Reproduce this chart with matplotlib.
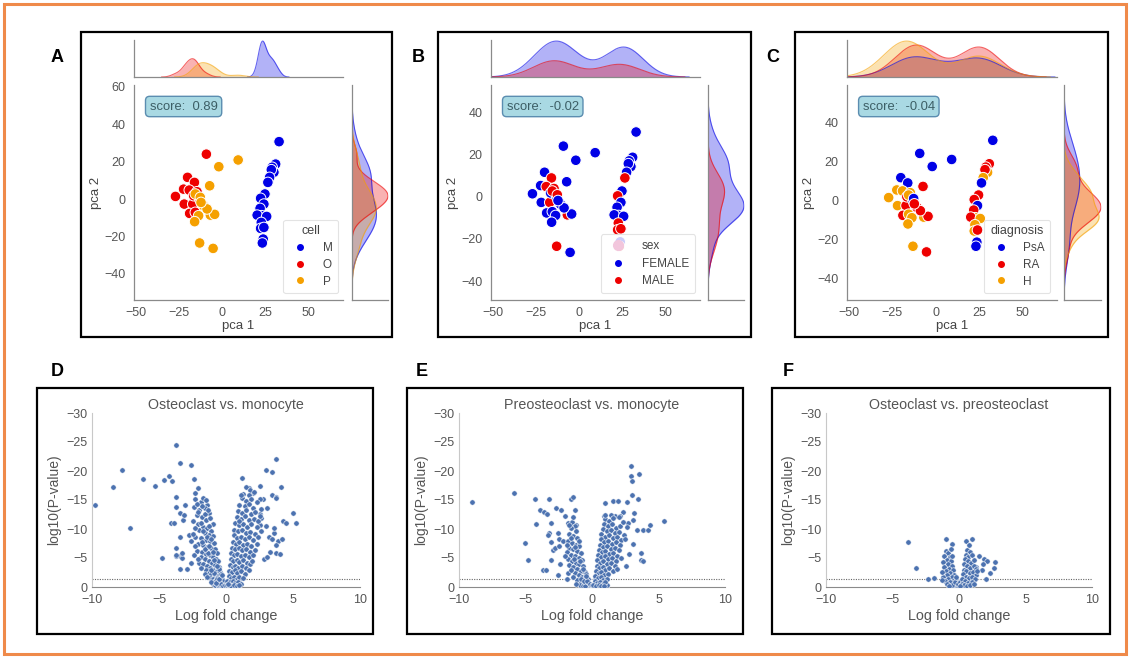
import matplotlib
matplotlib.use("Agg")
import matplotlib.pyplot as plt
from matplotlib.patches import Rectangle
from matplotlib.lines import Line2D
import numpy as np

plt.rcParams["font.family"] = ["Liberation Sans", "DejaVu Sans"]

W, H = 1130, 658

# ---- PCA samples (same points in A, B, C) ----
pca1 = np.array([33, 31, 29, 30, 28.5, 27.5, 26.5, 24.8, 22.3, 24.2, 22, 22.9, 20.3, 25.8,
                 22.7, 22.3, 24.2, 23.8, 23.3,
                 -9.1, -20, -16, -22.3, -27, -19, -21.9, -17, -18.8, -15.5, -16.5, -14.5, -13,
                 9.3, -1.9, -7.2, -15.5, -12.6, -10.7, -13.6, -6.8, -4.3, -8.7, -15.9, -13,
                 -5.2, -12.2])
pca2 = np.array([30.7, 18.7, 17, 14.3, 15.7, 11.6, 8.9, 2.7, 0.4, -2.7, -5, -8.9, -8.6, -9.3,
                 -12.5, -15.7, -15.2, -21.4, -23.5,
                 24, 11.6, 8.9, 5.3, 1.4, 4.8, -2.7, -2.7, -7.7, -7.1, 1.8, 3.9, 0,
                 20.9, 17.3, 7.1, 2.7, 0.9, -3.6, -8.9, -8.6, -8.2, -5.3, -12.1, -23.5,
                 -26.4, -1.8])
cell = (["M"] * 19) + (["O"] * 13) + (["P"] * 14)
sex = ["FEMALE", "FEMALE", "FEMALE", "FEMALE", "FEMALE", "FEMALE", "MALE", "FEMALE", "MALE",
       "FEMALE", "FEMALE", "FEMALE", "FEMALE", "FEMALE", "MALE", "MALE", "MALE", "FEMALE", "MALE",
       "FEMALE", "FEMALE", "MALE", "FEMALE", "FEMALE", "MALE", "FEMALE", "MALE", "FEMALE",
       "FEMALE", "FEMALE", "MALE", "FEMALE",
       "FEMALE", "FEMALE", "FEMALE", "MALE", "MALE", "FEMALE", "FEMALE", "MALE", "FEMALE",
       "FEMALE", "FEMALE", "MALE", "FEMALE", "FEMALE"]
diagnosis = ["PsA", "RA", "RA", "H", "RA", "H", "PsA", "RA", "RA", "PsA", "RA", "H", "RA", "H",
             "H", "H", "RA", "PsA", "PsA",
             "PsA", "PsA", "PsA", "H", "H", "H", "H", "RA", "RA", "H", "RA", "H", "PsA",
             "PsA", "PsA", "RA", "H", "PsA", "RA", "H", "H", "RA", "RA", "H", "H", "RA", "RA"]
scores = ["0.89", "-0.02", "-0.04"]

# ---- volcano points (log fold change, log10 P) ----
om_points = [
    (-9.75, -14.2), (-8.4, -17.2), (-7.75, -20.1), (-7.2, -10.1), (-6.2, -18.7), (-5.3, -17.5),
    (-4.75, -5.0), (-4.6, -18.4), (-4.25, -19.1), (-4.0, -18.2), (-3.75, -24.4), (-3.7, -15.5),
    (-3.75, -13.8), (-4.1, -11.1), (-3.9, -11.1), (-3.45, -21.3), (-2.6, -21.1), (-2.4, -18.6),
    (-2.1, -17.1), (-2.3, -16.2), (-3.05, -14.2), (-3.75, -6.7), (-3.45, -5.3), (-3.75, -5.3),
    (-3.25, -5.0), (-3.45, -3.1), (-2.9, -3.1), (-2.6, -4.1), (-2.75, -9.0), (-3.2, -11.6),
    (-3.4, -12.8), (-3.1, -12.5), (-3.4, -8.7), (-3.25, -5.9), (-3.75, -5.6),
    (1.2, -18.8), (1.75, -17.1), (2.0, -16.2), (2.55, -17.4), (3.0, -20.2), (3.4, -19.8),
    (3.75, -22.0), (4.1, -17.2), (3.4, -15.9), (3.7, -15.5), (3.75, -15.3), (3.05, -13.6),
    (2.55, -12.6), (2.6, -11.9), (4.25, -11.3), (4.45, -11.0), (5.0, -12.8), (5.2, -11.0),
    (3.2, -8.7), (3.4, -8.2), (3.9, -7.9), (4.2, -8.2), (3.75, -7.3), (3.25, -6.1), (3.7, -5.9),
    (4.0, -5.7), (2.8, -4.8), (3.05, -5.2), (3.6, -9.3), (3.6, -10.2), (2.95, -10.5),
    (2.5, -10.7), (2.75, -15.1), (2.5, -15.1),
    (-2.3, -15.2), (-1.9, -14.6), (-1.7, -15.4), (-1.4, -14.1), (-2.4, -13.8), (-2.0, -13.2),
    (-1.6, -13.6), (-1.3, -12.7), (-2.2, -12.4), (-1.8, -12.1), (-1.5, -11.6), (-1.2, -11.9),
    (-1.0, -10.8), (-2.5, -11.3), (-2.1, -10.9), (-1.7, -10.4), (-1.4, -10.2), (-1.1, -9.7),
    (-2.0, -9.9), (-1.6, -9.3), (-1.3, -9.0), (-0.95, -8.8), (-2.3, -8.6), (-1.9, -8.4),
    (-1.5, -8.1), (-1.2, -7.9), (-0.9, -7.6), (-2.1, -7.4), (-1.7, -7.2), (-1.4, -6.9),
    (-1.1, -6.7), (-0.85, -6.5), (-0.7, -5.9), (-2.2, -6.2), (-1.8, -6.0), (-1.5, -5.7),
    (-1.2, -5.5), (-1.0, -5.2), (-0.75, -4.9), (-0.6, -4.4), (-1.9, -5.1), (-1.6, -4.8),
    (-1.3, -4.5), (-1.05, -4.1), (-0.85, -3.8), (-0.55, -3.5), (-2.0, -4.2), (-1.7, -3.9),
    (-1.45, -3.6), (-1.2, -3.3), (-0.95, -3.0), (-0.7, -2.8), (-0.45, -2.6), (-1.5, -2.9),
    (-1.3, -2.5), (-1.1, -2.2), (-0.85, -2.0), (-0.6, -1.9), (-0.35, -1.7), (-1.2, -1.6),
    (-1.0, -1.3), (-0.8, -1.1), (-0.6, -0.9), (-0.45, -1.2), (-0.25, -0.8), (-1.0, -0.5),
    (-0.8, -0.3), (-0.6, -0.4), (-0.4, -0.2), (-0.25, -0.3), (-0.1, -0.15), (-0.5, -0.6),
    (-0.15, -0.5), (-0.3, -1.4), (-0.7, -1.6), (-0.9, -2.4), (-1.15, -2.9), (-0.5, -3.1),
    (-0.65, -3.6), (-0.9, -4.6), (-1.35, -5.9), (-1.55, -6.5), (-1.0, -6.1), (-1.25, -7.1),
    (-1.8, -7.8), (-1.45, -8.6), (-1.1, -8.3), (-1.75, -9.6), (-1.25, -10.5), (-1.9, -11.1),
    (-1.55, -12.6), (-2.3, -10.2), (-2.1, -13.0), (-1.8, -13.9), (-1.35, -13.3), (-2.2, -14.3),
    (-1.5, -15.0), (-2.45, -9.1), (-2.6, -7.9), (-2.35, -7.0), (-2.4, -5.5), (-2.1, -4.8),
    (-1.85, -3.3), (-1.6, -2.2), (-1.4, -1.8), (-0.2, -1.1), (-0.4, -2.2),
    (-0.9, -0.9), (-0.7, -1.3), (-0.55, -1.0), (-0.35, -0.55), (-0.2, -0.25), (-0.05, -0.4),
    (0.05, -0.7), (0.25, -0.15), (0.45, -0.55), (0.65, -0.5), (0.85, -0.6), (0.35, -1.3),
    (-1.1, -0.8), (-0.75, -0.65), (-0.5, -1.45), (0.55, -1.45), (0.75, -1.1), (0.95, -1.25),
    (-0.3, -2.0), (0.3, -2.2),
    (1.5, -17.2), (1.8, -16.8), (1.3, -16.1), (1.7, -15.9), (2.1, -16.3), (1.2, -15.3),
    (1.5, -14.9), (1.9, -15.1), (2.3, -14.7), (1.0, -14.2), (1.4, -13.9), (1.7, -14.3),
    (2.0, -13.6), (0.9, -13.1), (1.2, -12.8), (1.5, -13.2), (1.9, -12.6), (2.2, -12.9),
    (0.8, -12.0), (1.1, -11.7), (1.4, -12.2), (1.7, -11.5), (2.1, -11.8), (2.4, -11.4),
    (0.7, -11.0), (1.0, -10.7), (1.3, -10.9), (1.6, -10.4), (1.9, -10.8), (2.3, -10.3),
    (0.6, -9.9), (0.9, -9.6), (1.2, -9.8), (1.5, -9.3), (1.8, -9.5), (2.2, -9.1), (2.6, -9.6),
    (0.6, -8.9), (0.8, -8.5), (1.1, -8.7), (1.4, -8.3), (1.7, -8.6), (2.0, -8.1), (0.5, -7.8),
    (0.75, -7.5), (1.0, -7.7), (1.3, -7.3), (1.6, -7.5), (1.9, -7.1), (2.3, -7.4),
    (0.45, -6.8), (0.7, -6.5), (0.95, -6.7), (1.2, -6.3), (1.5, -6.5), (1.8, -6.1), (0.4, -5.8),
    (0.6, -5.5), (0.85, -5.7), (1.1, -5.3), (1.4, -5.5), (1.7, -5.1), (2.0, -5.6),
    (0.35, -4.8), (0.55, -4.5), (0.8, -4.7), (1.0, -4.3), (1.3, -4.6), (1.6, -4.2), (0.3, -3.8),
    (0.5, -3.5), (0.7, -3.7), (0.9, -3.3), (1.2, -3.6), (1.5, -3.2), (1.8, -3.9), (0.25, -2.8),
    (0.45, -2.6), (0.65, -2.9), (0.85, -2.4), (1.1, -2.7), (1.4, -2.3), (0.2, -1.9),
    (0.4, -1.6), (0.6, -1.8), (0.8, -1.4), (1.0, -1.7), (1.3, -1.5), (0.1, -1.0), (0.3, -0.8),
    (0.5, -1.1), (0.7, -0.7), (0.9, -0.9), (1.1, -0.6), (0.05, -0.3), (0.2, -0.4), (0.4, -0.2),
    (0.6, -0.35), (0.8, -0.25), (1.0, -0.3), (0.15, -0.6), (2.5, -12.3), (2.4, -8.6),
    (2.2, -6.4), (1.95, -4.4), (1.7, -2.9), (2.6, -13.5), (1.1, -15.8), (0.95, -11.3),
]
pm_points = [
    (-9.0, -14.7), (-5.9, -16.2), (-5.05, -7.6), (-4.8, -4.6), (-4.25, -15.1), (-4.2, -10.9),
    (-3.9, -13.2), (-3.6, -13.0), (-3.35, -12.6), (-3.2, -15.1), (-3.25, -9.3), (-3.3, -9.0),
    (-3.05, -11.0), (-3.05, -7.7), (-2.95, -6.3), (-3.05, -4.7), (-3.7, -3.0), (-3.45, -2.9),
    (-2.7, -13.6), (-2.35, -13.2), (-2.55, -9.3), (-2.5, -8.3), (-2.8, -6.7), (-2.45, -7.0),
    (-2.4, -3.9), (-2.55, -2.0), (-2.15, -7.9), (-2.0, -12.2), (-1.8, -11.0), (-1.55, -15.1),
    (-1.4, -15.5), (-1.3, -13.2), (-1.6, -10.5), (-1.2, -10.7), (-1.8, -2.4), (-1.9, -1.3),
    (1.0, -14.5), (1.6, -14.8), (1.95, -14.9), (2.6, -14.6), (2.9, -19.2), (2.9, -20.8),
    (3.0, -18.2), (3.5, -19.5), (3.0, -15.9), (3.45, -15.2), (3.15, -12.8), (3.05, -11.6),
    (2.7, -11.0), (3.35, -9.9), (3.8, -9.9), (4.2, -9.9), (4.35, -10.7), (5.45, -11.3),
    (3.65, -5.9), (3.7, -4.7), (3.85, -4.5), (3.05, -7.4), (2.8, -5.7), (2.55, -3.7),
    (2.3, -13.0), (2.1, -12.2), (1.7, -12.2), (1.4, -12.5), (0.9, -12.2),
    (-1.5, -11.2), (-1.3, -10.6), (-1.6, -10.1), (-1.2, -9.7), (-1.7, -9.2), (-1.4, -8.8),
    (-1.1, -8.4), (-1.8, -8.0), (-1.5, -7.6), (-1.2, -7.3), (-0.95, -7.0), (-1.7, -6.8),
    (-1.4, -6.5), (-1.1, -6.2), (-0.85, -5.9), (-1.9, -6.0), (-1.6, -5.6), (-1.3, -5.3),
    (-1.0, -5.0), (-0.75, -4.7), (-1.8, -4.9), (-1.5, -4.5), (-1.2, -4.2), (-0.95, -3.9),
    (-0.65, -3.6), (-1.7, -3.8), (-1.4, -3.4), (-1.1, -3.1), (-0.85, -2.8), (-0.55, -2.6),
    (-1.3, -2.4), (-1.0, -2.1), (-0.75, -1.8), (-0.5, -1.6), (-0.3, -1.3), (-1.1, -1.2),
    (-0.85, -0.9), (-0.6, -0.7), (-0.4, -0.5), (-0.2, -0.3), (-0.9, -0.3), (-0.7, -0.2),
    (-0.5, -0.15), (-0.3, -0.8), (-0.1, -0.1), (-1.4, -1.8), (-1.6, -2.9), (-1.25, -6.9),
    (-1.0, -8.0), (-0.9, -4.4), (-1.55, -8.4), (-1.35, -4.9), (-0.7, -3.1), (-0.45, -2.2),
    (-1.9, -7.3), (-2.0, -5.3), (-1.75, -10.7), (-1.45, -12.0),
    (-0.8, -1.3), (-0.6, -1.1), (-0.35, -0.95), (-0.15, -0.55), (0.0, -0.3), (0.15, -0.6),
    (0.35, -0.5), (0.55, -0.65), (0.75, -0.9), (0.25, -1.3), (-0.45, -1.9), (0.4, -2.0),
    (-1.2, -0.6), (1.15, -0.4),
    (1.0, -11.8), (1.3, -11.4), (0.9, -10.9), (1.2, -10.5), (1.5, -10.8), (1.8, -10.2),
    (2.1, -10.6), (0.8, -10.0), (1.1, -9.6), (1.4, -9.8), (1.7, -9.3), (2.0, -9.5), (2.4, -9.0),
    (0.7, -9.1), (1.0, -8.7), (1.3, -8.9), (1.6, -8.4), (1.9, -8.6), (2.2, -8.1), (0.65, -8.2),
    (0.9, -7.8), (1.2, -8.0), (1.5, -7.5), (1.8, -7.7), (2.1, -7.2), (0.6, -7.3), (0.8, -6.9),
    (1.1, -7.1), (1.4, -6.6), (1.7, -6.8), (2.0, -6.3), (0.5, -6.4), (0.75, -6.0), (1.0, -6.2),
    (1.3, -5.7), (1.6, -5.9), (1.9, -5.4), (0.45, -5.5), (0.7, -5.1), (0.95, -5.3), (1.2, -4.8),
    (1.5, -5.0), (1.8, -4.5), (0.4, -4.6), (0.6, -4.2), (0.85, -4.4), (1.1, -3.9), (1.4, -4.1),
    (1.7, -3.6), (0.35, -3.7), (0.55, -3.3), (0.8, -3.5), (1.0, -3.0), (1.3, -3.2), (1.6, -2.8),
    (0.3, -2.8), (0.5, -2.4), (0.7, -2.6), (0.9, -2.1), (1.2, -2.3), (0.25, -1.9), (0.45, -1.5),
    (0.65, -1.7), (0.85, -1.2), (1.1, -1.4), (0.2, -1.0), (0.4, -0.7), (0.6, -0.9), (0.8, -0.5),
    (1.0, -0.8), (0.1, -0.3), (0.3, -0.2), (0.5, -0.35), (0.7, -0.15), (0.9, -0.25),
    (2.3, -11.2), (2.5, -8.2), (2.2, -5.0), (1.9, -3.1), (0.95, -12.4), (1.6, -11.9),
    (2.6, -10.3), (2.0, -12.1),
]
op_points = [
    (-3.85, -7.8), (-3.25, -3.3), (-2.3, -1.3), (-1.9, -1.6), (-1.0, -8.3), (-0.5, -7.4),
    (0.5, -7.9), (1.0, -8.3), (1.5, -5.3), (1.9, -4.8), (2.1, -4.4), (2.7, -4.3), (2.6, -3.2),
    (2.3, -2.4), (2.0, -1.4), (1.7, -3.0), (1.8, -4.0), (1.3, -3.4),
    (-1.0, -6.2), (-0.8, -5.8), (-1.1, -5.4), (-0.7, -5.1), (-0.9, -4.7), (-1.2, -4.3),
    (-0.6, -4.4), (-0.85, -3.9), (-1.1, -3.5), (-0.55, -3.6), (-0.75, -3.1), (-1.0, -2.8),
    (-0.45, -2.9), (-0.65, -2.4), (-0.9, -2.1), (-1.2, -1.7), (-0.35, -2.1), (-0.55, -1.7),
    (-0.8, -1.4), (-1.05, -1.1), (-0.25, -1.3), (-0.45, -1.0), (-0.7, -0.8), (-0.9, -0.5),
    (-0.15, -0.6), (-0.35, -0.4), (-0.55, -0.3), (-0.75, -0.2), (-0.1, -0.2), (-1.3, -2.6),
    (-0.6, -6.6), (-0.5, -5.3), (-1.25, -1.2),
    (-0.3, -0.9), (-0.05, -0.45), (0.05, -0.8), (0.15, -0.3), (-0.2, -1.7), (0.3, -1.6),
    (0.6, -6.4), (0.8, -6.0), (0.5, -5.6), (0.7, -5.2), (0.95, -5.5), (0.45, -4.8), (0.65, -4.5),
    (0.9, -4.2), (1.15, -4.6), (0.4, -3.9), (0.6, -3.6), (0.85, -3.3), (1.1, -3.7), (1.3, -3.1),
    (0.35, -3.0), (0.55, -2.7), (0.8, -2.4), (1.05, -2.6), (1.25, -2.1), (0.3, -2.2),
    (0.5, -1.8), (0.75, -1.5), (1.0, -1.8), (1.2, -1.3), (0.25, -1.3), (0.45, -1.0), (0.7, -0.7),
    (0.95, -0.9), (0.2, -0.5), (0.4, -0.3), (0.6, -0.2), (0.85, -0.35), (0.1, -0.15),
    (1.1, -0.5), (1.35, -2.7), (0.75, -7.2),
]
volcano_titles = ["Osteoclast vs. monocyte", "Preosteoclast vs. monocyte",
                  "Osteoclast vs. preosteoclast"]
p_cut = -1.3


def box(l, t, r, b):
    return [l / W, 1 - b / H, (r - l) / W, (b - t) / H]


def kde(values, mask, n_total, grid):
    d = values[mask]
    bw = d.std(ddof=1) * len(d) ** (-0.2)
    dens = np.exp(-0.5 * ((grid[:, None] - d[None, :]) / bw) ** 2).sum(axis=1)
    dens /= np.sqrt(2 * np.pi) * bw * n_total
    keep = (grid >= d.min() - 3 * bw) & (grid <= d.max() + 3 * bw)
    return grid[keep], dens[keep]


def style_axes(ax, spine="#8a8a8a"):
    for s in ["top", "right"]:
        ax.spines[s].set_visible(False)
    for s in ["left", "bottom"]:
        ax.spines[s].set_color(spine)
        ax.spines[s].set_linewidth(0.9)


fig = plt.figure(figsize=(W / 100, H / 100), dpi=100)

# outer orange frame and panel boxes
fig.add_artist(Rectangle((4 / W, 4 / H), 1122 / W, 650 / H, transform=fig.transFigure,
                         fill=False, edgecolor="#ef8a4a", linewidth=2.2))
for l, t, r, b in [(81, 32, 392, 337), (438, 32, 751, 337), (795, 32, 1108, 337),
                   (37, 388, 373, 634), (407, 388, 743, 634), (772, 388, 1110, 634)]:
    fig.add_artist(Rectangle((l / W, 1 - b / H), (r - l) / W, (b - t) / H,
                             transform=fig.transFigure, fill=False, edgecolor="black",
                             linewidth=1.6))
for letter, x, y in [("A", 57, 58), ("B", 418, 58), ("C", 773, 58),
                     ("D", 57, 372), ("E", 422, 372), ("F", 788, 372)]:
    fig.text(x / W, 1 - y / H, letter, fontsize=13, fontweight="bold", ha="center", va="center")

# ---- PCA joint panels ----
panels = [
    (134, 343, 352, 388, (-54, 61), [-40, -20, 0, 20, 40, 60], cell, ["M", "O", "P"],
     ["#0000e6", "#ee0000", "#f5a000"], "cell", 0.976),
    (491, 700, 708, 744, (-49, 53), [-40, -20, 0, 20, 40], sex, ["FEMALE", "MALE"],
     ["#0000e6", "#ee0000"], "sex", 0.976),
    (847, 1057, 1064, 1101, (-51, 59), [-40, -20, 0, 20, 40], diagnosis, ["PsA", "RA", "H"],
     ["#0000e6", "#ee0000", "#f5a000"], "diagnosis", 0.967),
]
xlim = (-51, 70)
for i, (ml, mr, rl, rr, ylim, yt, hue, order, cols, title, lx) in enumerate(panels):
    hue = np.array(hue)
    ax = fig.add_axes(box(ml, 85, mr, 300))
    colour_of = dict(zip(order, cols))
    ax.scatter(pca1, pca2, c=[colour_of[h] for h in hue], s=58, edgecolor="white",
               linewidth=0.7, zorder=3)
    ax.set_xlim(*xlim)
    ax.set_ylim(*ylim)
    ax.set_xticks([-50, -25, 0, 25, 50])
    ax.set_yticks(yt)
    ax.tick_params(length=0, labelsize=9, labelcolor="#555555")
    ax.tick_params(axis="x", pad=5)
    ax.tick_params(axis="y", pad=6)
    ax.set_xlabel("pca 1", fontsize=9.5, color="#444444", labelpad=1)
    ax.set_ylabel("pca 2", fontsize=9.5, color="#444444", labelpad=2)
    style_axes(ax)
    ax.text(0.075, 0.9, f"score:  {scores[i]}", transform=ax.transAxes, fontsize=9.4,
            color="#3d5f66", va="center", ha="left",
            bbox=dict(boxstyle="round,pad=0.32", facecolor="#a9d9e3", edgecolor="#5b8db0",
                      linewidth=1.0))

    handles = [Line2D([], [], marker="o", ls="", color=c, markersize=4) for c in cols]
    labels = list(order)
    if title == "sex":
        handles = [Line2D([], [], marker="o", ls="", color="#f2c6dc", markersize=7)] + handles
        labels = ["sex"] + labels
        leg = ax.legend(handles, labels, loc="lower right", bbox_to_anchor=(lx, 0.033),
                        borderaxespad=0, fontsize=8.5, frameon=True, handletextpad=1.0,
                        borderpad=0.5, labelspacing=0.45)
    else:
        leg = ax.legend(handles, labels, title=title, loc="lower right",
                        bbox_to_anchor=(lx, 0.033), borderaxespad=0, fontsize=8.5,
                        title_fontsize=9, frameon=True, handletextpad=0.9, borderpad=0.45,
                        labelspacing=0.4)
    for t in leg.get_texts():
        t.set_color("#444444")
    if leg.get_title():
        leg.get_title().set_color("#444444")
    leg.get_frame().set_edgecolor("#dddddd")
    leg.get_frame().set_linewidth(0.8)

    # top marginal
    axt = fig.add_axes(box(ml, 40, mr, 77))
    grid = np.linspace(xlim[0] - 20, xlim[1] + 20, 600)
    top_max = 0
    for g, c in zip(order, cols):
        gx, gd = kde(pca1, hue == g, len(pca1), grid)
        axt.fill_between(gx, 0, gd, color=c, alpha=0.3, linewidth=0)
        axt.plot(gx, gd, color=c, alpha=0.6, linewidth=0.8)
        top_max = max(top_max, gd.max())
    axt.set_xlim(*xlim)
    axt.set_ylim(0, top_max * 1.03)
    axt.set_xticks([])
    axt.set_yticks([])
    style_axes(axt)

    # right marginal
    axr = fig.add_axes(box(rl, 85, rr, 300))
    grid = np.linspace(ylim[0] - 20, ylim[1] + 20, 600)
    side_max = 0
    for g, c in zip(order, cols):
        gy, gd = kde(pca2, hue == g, len(pca2), grid)
        axr.fill_betweenx(gy, 0, gd, color=c, alpha=0.3, linewidth=0)
        axr.plot(gd, gy, color=c, alpha=0.6, linewidth=0.8)
        side_max = max(side_max, gd.max())
    axr.set_ylim(*ylim)
    axr.set_xlim(0, side_max * 1.0)
    axr.set_xticks([])
    axr.set_yticks([])
    style_axes(axr)

# ---- volcano panels ----
for (l, r), pts, ttl in zip([(92, 360), (459, 725), (826, 1092)],
                            [om_points, pm_points, op_points], volcano_titles):
    lfc, logp = np.array(pts).T
    ax = fig.add_axes(box(l, 413, r, 587))
    ax.scatter(lfc, logp, s=15, color="#4c72b0", edgecolor="white", linewidth=0.4, zorder=3)
    ax.axhline(p_cut, color="#666666", linewidth=0.8, linestyle=(0, (1, 1.2)), zorder=2)
    ax.set_xlim(-10, 10)
    ax.set_ylim(0, -30)
    ax.set_xticks([-10, -5, 0, 5, 10])
    ax.set_yticks([0, -5, -10, -15, -20, -25, -30])
    ax.tick_params(length=0, labelsize=9, labelcolor="#555555")
    ax.tick_params(axis="x", pad=5)
    ax.tick_params(axis="y", pad=3)
    for s in ["top", "right"]:
        ax.spines[s].set_visible(False)
    ax.spines["left"].set_color("#c8c8c8")
    ax.spines["bottom"].set_color("#8a8a8a")
    ax.set_xlabel("Log fold change", fontsize=10.4, color="#555555", labelpad=2)
    ax.set_ylabel("log10(P-value)", fontsize=10, color="#555555", labelpad=4)
    ax.set_title(ttl, fontsize=10.3, color="#555555", pad=3)

fig.savefig("out.png", dpi=100)
